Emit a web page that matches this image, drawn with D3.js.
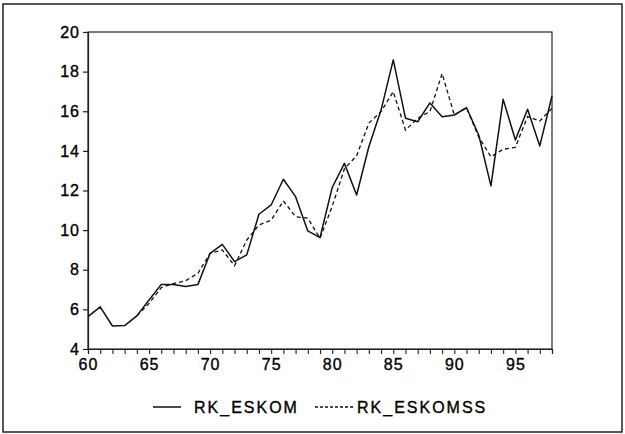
<!DOCTYPE html>
<html>
<head>
<meta charset="utf-8">
<script src="https://cdn.jsdelivr.net/npm/d3@7/dist/d3.min.js"></script>
<style>
  html, body { margin: 0; padding: 0; background: #fff; }
  svg { display: block; }
  text { font-family: "Liberation Sans", Arial, Helvetica, sans-serif; fill: #000; stroke: #000; stroke-width: 0.35px; }
</style>
</head>
<body>
<svg id="chart" width="625" height="434"></svg>
<script>
const years = d3.range(1960, 1999);
const rkEskom = [5.63, 6.13, 5.16, 5.18, 5.67, 6.47, 7.26, 7.26, 7.15, 7.25,
                 8.83, 9.28, 8.41, 8.75, 10.8, 11.27, 12.57, 11.69, 9.96, 9.62,
                 12.15, 13.37, 11.77, 14.21, 16.06, 18.59, 15.65, 15.47, 16.42, 15.72,
                 15.81, 16.18, 14.8, 12.23, 16.6, 14.55, 16.1, 14.25, 16.77];
const rkEskomss = [null, null, null, null, 5.67, 6.3, 7.1, 7.3, 7.45, 7.82,
                   8.83, 9.0, 8.2, 9.5, 10.26, 10.5, 11.47, 10.68, 10.6, 9.59,
                   11.2, 13.1, 13.75, 15.4, 15.98, 16.99, 15.05, 15.65, 15.98, 17.9,
                   15.81, 16.18, 14.7, 13.7, 14.08, 14.18, 15.73, 15.51, 16.15];
const yTicks = [4, 6, 8, 10, 12, 14, 16, 18, 20];
const xTickLabels = ["60", "65", "70", "75", "80", "85", "90", "95"];
const seriesNames = ["RK_ESKOM", "RK_ESKOMSS"];

const svg = d3.select("#chart");
const W = 625, H = 434;
const m = { left: 88, right: 73, top: 32, bottom: 85 };
const pw = W - m.left - m.right, ph = H - m.top - m.bottom;

// outer frame
svg.append("rect").attr("x", 3).attr("y", 4).attr("width", 619).attr("height", 428)
  .attr("fill", "none").attr("stroke", "#222").attr("stroke-width", 1.5);

const g = svg.append("g").attr("transform", `translate(${m.left},${m.top})`);

const x = d3.scaleLinear().domain([1960, 1998]).range([0, pw]);
const y = d3.scaleLinear().domain([4, 20]).range([ph, 0]);

// plot box
g.append("rect").attr("width", pw).attr("height", ph)
  .attr("fill", "none").attr("stroke", "#222").attr("stroke-width", 1.2);

// y axis
const yAxis = g.append("g").call(d3.axisLeft(y).tickValues(yTicks).tickSize(5).tickPadding(3));
yAxis.select(".domain").attr("stroke", "#222").attr("stroke-width", 1.2);
yAxis.selectAll(".tick line").attr("stroke", "#222").attr("stroke-width", 1.2);
yAxis.selectAll("text").style("font-size", "16px").style("letter-spacing", "1px").attr("fill", "#000");

// x axis
const xAxis = g.append("g").attr("transform", `translate(0,${ph})`)
  .call(d3.axisBottom(x).tickValues(years).tickSize(5).tickPadding(5)
    .tickFormat(d => (d % 5 === 0 ? xTickLabels[(d - 1960) / 5] : "")));
xAxis.select(".domain").attr("stroke", "#222").attr("stroke-width", 1.2);
xAxis.selectAll(".tick line").attr("stroke", "#222").attr("stroke-width", 1.1);
xAxis.selectAll("text").style("font-size", "16px").style("letter-spacing", "1px").attr("fill", "#000");

const line = d3.line().defined(d => d[1] != null).x(d => x(d[0])).y(d => y(d[1]));

g.append("path").datum(years.map((yr, i) => [yr, rkEskomss[i]]))
  .attr("d", line).attr("fill", "none").attr("stroke", "#111")
  .attr("stroke-width", 1.3).attr("stroke-dasharray", "4,3");

g.append("path").datum(years.map((yr, i) => [yr, rkEskom[i]]))
  .attr("d", line).attr("fill", "none").attr("stroke", "#111")
  .attr("stroke-width", 1.5).attr("stroke-linejoin", "round");

// legend
const leg = svg.append("g").attr("transform", "translate(0,407)");
leg.append("line").attr("x1", 153).attr("x2", 181).attr("y1", 0).attr("y2", 0)
  .attr("stroke", "#111").attr("stroke-width", 1.5);
leg.append("text").attr("x", 194).attr("y", 6).text(seriesNames[0])
  .style("font-size", "16px").style("letter-spacing", "2px");
leg.append("line").attr("x1", 315).attr("x2", 353).attr("y1", 0).attr("y2", 0)
  .attr("stroke", "#111").attr("stroke-width", 1.3).attr("stroke-dasharray", "3,2");
leg.append("text").attr("x", 357).attr("y", 6).text(seriesNames[1])
  .style("font-size", "16px").style("letter-spacing", "2px");
</script>
</body>
</html>
